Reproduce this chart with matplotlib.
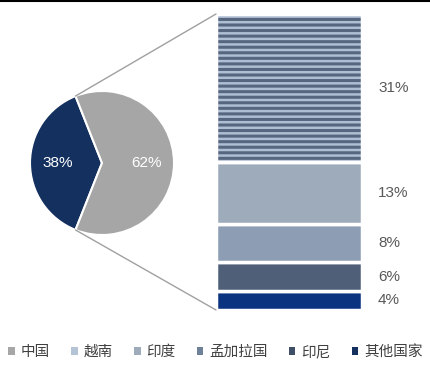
import numpy as np
import matplotlib.pyplot as plt
from matplotlib.patches import ConnectionPatch, Patch
from matplotlib.lines import Line2D

plt.rcParams['font.family'] = ['Noto Sans CJK SC', 'DejaVu Sans']
plt.rcParams['hatch.linewidth'] = 2.2

# pie split and breakdown of the larger slice
pie_values = [38, 62]
pie_colors = ['#13305f', '#a6a6a6']
bar_values = [31, 13, 8, 6, 4]          # top to bottom
bar_colors = ['#aebed3', '#9eabbb', '#8d9db4', '#4f5f78', '#0b3380']
legend_labels = ['中国', '越南', '印度', '孟加拉国', '印尼', '其他国家']
legend_colors = ['#a6a6a6', '#b4c3d6', '#9eabbb', '#6f8099', '#3f4f68', '#13305f']

W, H = 431, 365
fig = plt.figure(figsize=(W / 100, H / 100), dpi=100)
num_font = ['Liberation Sans', 'DejaVu Sans']

# pie axes: centre (102,163), radius 72 px
cx, cy, r = 102, 163, 72
ax_pie = fig.add_axes([(cx - r) / W, (H - cy - r) / H, 2 * r / W, 2 * r / H])
start = 180 - pie_values[0] / 100 * 360 / 2
wedges, texts, autotexts = ax_pie.pie(
    pie_values, colors=pie_colors, startangle=start, counterclock=True,
    autopct='%d%%', pctdistance=0.62, radius=1,
    wedgeprops=dict(edgecolor='white', linewidth=1.5),
    textprops=dict(color='white', fontsize=11, family=num_font))
ax_pie.set_xlim(-1, 1)
ax_pie.set_ylim(-1, 1)
ax_pie.set_aspect('auto')
ax_pie.axis('off')

# stacked breakdown bar
bx0, bx1, by0, by1 = 216, 362, 14, 310
ax_bar = fig.add_axes([bx0 / W, (H - by1) / H, (bx1 - bx0) / W, (by1 - by0) / H])
total = sum(bar_values)
bottom = 0
for val, col in zip(bar_values[::-1], bar_colors[::-1]):
    if val == bar_values[0]:
        # striped segment
        ax_bar.bar(0.5, val, width=1, bottom=bottom, color=col,
                   edgecolor='#56667f', hatch='---', linewidth=0)
    else:
        ax_bar.bar(0.5, val, width=1, bottom=bottom, color=col, linewidth=0)
    ax_bar.bar(0.5, val, width=1, bottom=bottom, fill=False,
               edgecolor='white', linewidth=2.5)
    ax_bar.text(1.11, bottom + val / 2, f'{val}%', ha='left', va='center',
                fontsize=11, color='#595959', family=num_font, clip_on=False)
    bottom += val
ax_bar.set_xlim(0, 1)
ax_bar.set_ylim(0, total)
ax_bar.axis('off')

# connector lines from pie slice edges to the bar corners
theta1 = np.deg2rad(start)
theta2 = np.deg2rad(start + pie_values[0] / 100 * 360)
for th, yb in [(theta1, total), (theta2, 0)]:
    con = ConnectionPatch(xyA=(np.cos(th), np.sin(th)), coordsA=ax_pie.transData,
                          xyB=(0, yb), coordsB=ax_bar.transData,
                          color='#a0a0a0', linewidth=1)
    fig.add_artist(con)

# top rule
fig.add_artist(Line2D([0, 1], [0.997, 0.997], color='black', linewidth=1.5,
                      transform=fig.transFigure))

handles = [Patch(facecolor=c, edgecolor='none') for c in legend_colors]
fig.legend(handles, legend_labels, loc='center', bbox_to_anchor=(0.5, 1 - 352 / H),
           ncol=6, frameon=False, fontsize=10.5, handlelength=0.45, handleheight=0.45,
           handletextpad=0.4, columnspacing=1.45, labelcolor='#404040')

fig.savefig('out.png', dpi=100)
